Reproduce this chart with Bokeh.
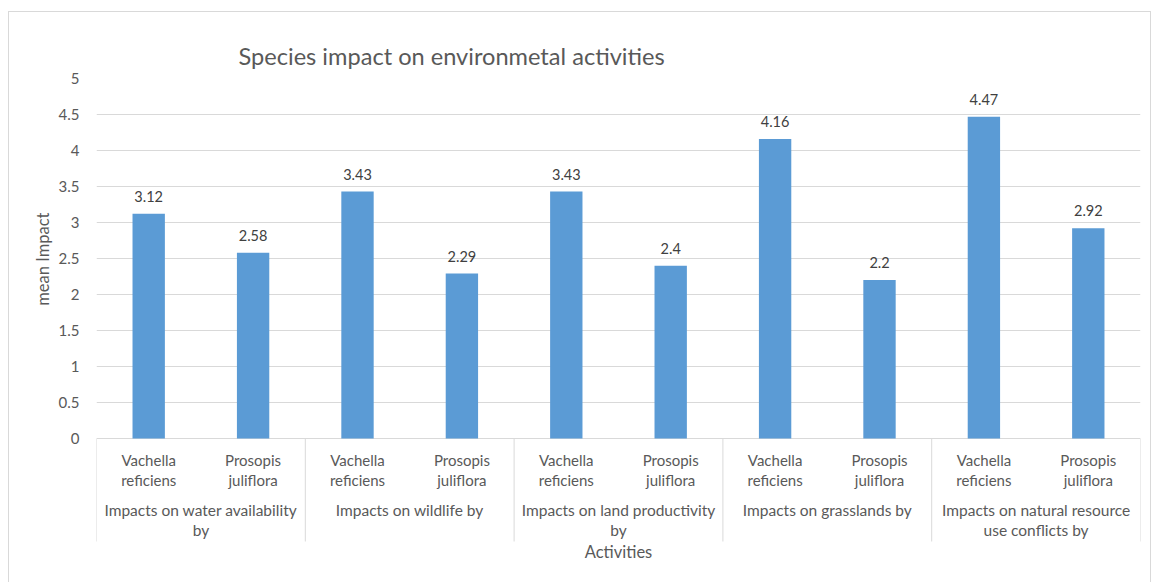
from bokeh.plotting import figure
from bokeh.models import (FactorRange, Range1d, FixedTicker, ColumnDataSource,
                          CustomJSTickFormatter, Label, Title)
from bokeh.core.properties import value
from bokeh.embed import file_html
from bokeh.resources import INLINE

# --- data -------------------------------------------------------------
activities = [
    "Impacts on water availability\nby",
    "Impacts on wildlife by",
    "Impacts on land productivity\nby",
    "Impacts on grasslands by",
    "Impacts on natural resource\nuse conflicts by",
]
species = ["Vachella\nreficiens", "Prosopis\njuliflora"]
vachella_reficiens = [3.12, 3.43, 3.43, 4.16, 4.47]
prosopis_juliflora = [2.58, 2.29, 2.4, 2.2, 2.92]
y_ticks = [0, 0.5, 1, 1.5, 2, 2.5, 3, 3.5, 4, 4.5, 5]

title_text = "Species impact on environmetal activities"
y_title = "mean Impact"
x_title = "Activities"

# --- styling ----------------------------------------------------------
FONT = "Lato"
GREY = "#595959"
DARK = "#404040"
LINE = "#d9d9d9"
BAR = "#5b9bd5"

factors = [(a, s) for a in activities for s in species]
tops = []
for v, p_ in zip(vachella_reficiens, prosopis_juliflora):
    tops += [v, p_]
bars = ColumnDataSource(dict(x=factors, top=tops, label=[f"{t:g}" for t in tops]))

x_range = FactorRange(factors=factors, factor_padding=0, subgroup_padding=0,
                      group_padding=0, range_padding=0)

p = figure(x_range=x_range, y_range=Range1d(-2, 5),
           width=1157, height=582,
           min_border_left=96, min_border_right=17,
           min_border_top=78, min_border_bottom=0,
           output_backend="svg", toolbar_location=None,
           title=title_text)

p.outline_line_color = None
p.background_fill_color = None
p.border_fill_color = None

# light frame around the whole chart
edge = f"linear-gradient({LINE}, {LINE})"
p.styles = {
    "background-color": "white",
    "background-image": ", ".join([edge] * 3),
    "background-size": "1px 571px, 1143px 1px, 1px 571px",
    "background-position": "8px 11px, 8px 11px, 1150px 11px",
    "background-repeat": "no-repeat",
}

p.title.text_font = FONT
p.title.text_font_size = "23.6px"
p.title.text_font_style = "normal"
p.title.text_color = GREY
p.title.align = "left"
p.title.offset = 142
p.title.standoff = 17

p.xaxis.visible = False
p.xgrid.visible = False

p.ygrid.ticker = FixedTicker(ticks=y_ticks)
p.ygrid.grid_line_color = LINE
p.ygrid.grid_line_width = 1

yax = p.yaxis[0]
yax.ticker = FixedTicker(ticks=y_ticks)
yax.formatter = CustomJSTickFormatter(code="return String(tick)")
yax.axis_line_color = None
yax.major_tick_line_color = None
yax.minor_tick_line_color = None
yax.major_label_standoff = 11
yax.major_label_text_font = FONT
yax.major_label_text_font_size = "15px"
yax.major_label_text_color = GREY

# value-axis title, centred on the 0..5 band
p.add_layout(Title(text=y_title, align="right", offset=134, standoff=6,
                   text_font=FONT, text_font_size="16.5px",
                   text_font_style="normal", text_color=GREY), "left")

# bars and their value labels
p.vbar(x="x", top="top", width=0.31, source=bars, fill_color=BAR, line_color=None)
p.text(x="x", y="top", text="label", source=bars, text_align="center",
       text_baseline="bottom", y_offset=-12, text_font=value(FONT),
       text_font_size="14.5px", text_color=DARK)

# category axis drawn inside the lower part of the frame
n_sub = len(species)
sep_x = [i * n_sub for i in range(len(activities) + 1)]
sep_bottom = -103 / 72
p.segment(x0=sep_x, x1=sep_x, y0=[0] * len(sep_x), y1=[sep_bottom] * len(sep_x),
          line_color=LINE, line_width=1)

p.text(x=factors, y=[0] * len(factors), text=[f[1] for f in factors],
       text_align="center", text_baseline="top", y_offset=12,
       text_font=value(FONT), text_font_size="15px", text_color=GREY,
       text_line_height=1.15)

p.text(x=activities, y=[0] * len(activities), text=activities,
       text_align="center", text_baseline="top", y_offset=62,
       text_font=value(FONT), text_font_size="15.5px", text_color=GREY,
       text_line_height=1.12)

p.add_layout(Label(x=len(factors) / 2, y=0, y_offset=-113, text=x_title,
                   text_align="center", text_baseline="middle",
                   text_font=FONT, text_font_size="16.5px", text_color=GREY))

open("out.html", "w").write(file_html(p, INLINE))
